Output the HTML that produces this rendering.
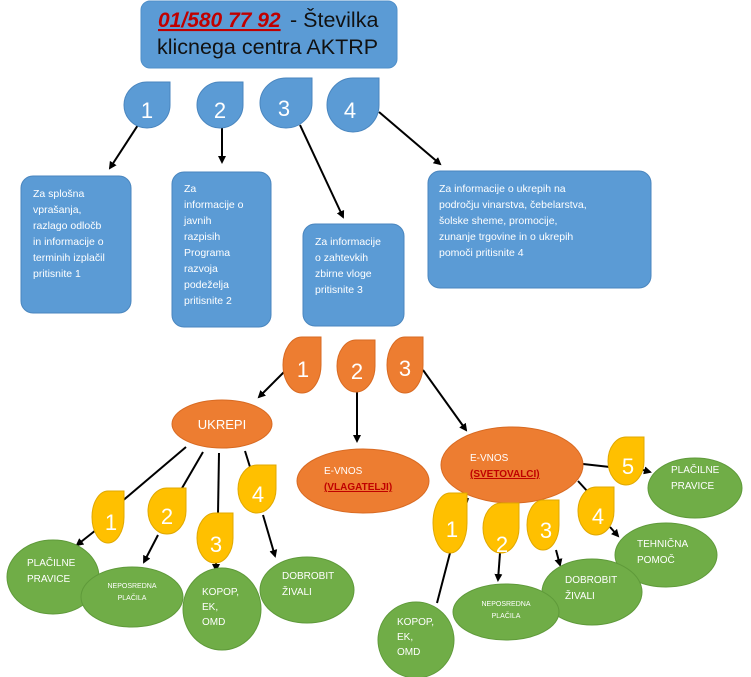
<!DOCTYPE html>
<html><head><meta charset="utf-8"><style>
html,body{margin:0;padding:0;background:#fff;}
svg{display:block;font-family:"Liberation Sans",sans-serif;}
.bt{fill:#fff;font-size:10.5px;}
.gt{fill:#fff;font-size:10px;}
.dn{fill:#fff;font-size:22px;text-anchor:middle;}
</style></head><body>
<svg width="751" height="677" viewBox="0 0 751 677" xmlns="http://www.w3.org/2000/svg">
<defs><marker id="a" markerWidth="8" markerHeight="8" refX="6" refY="4" orient="auto" markerUnits="userSpaceOnUse"><path d="M0,0 L8,4 L0,8 Z" fill="#000"/></marker></defs>
<g stroke="#000" stroke-width="2" fill="none">
<line x1="138" y1="125" x2="110" y2="168" marker-end="url(#a)"/>
<line x1="222" y1="128" x2="222" y2="162" marker-end="url(#a)"/>
<line x1="300" y1="125" x2="343" y2="217" marker-end="url(#a)"/>
<line x1="379" y1="112" x2="440" y2="164" marker-end="url(#a)"/>
<line x1="286" y1="370" x2="259" y2="397" marker-end="url(#a)"/>
<line x1="357" y1="392" x2="357" y2="441" marker-end="url(#a)"/>
<line x1="423" y1="370" x2="466" y2="430" marker-end="url(#a)"/>
<line x1="186" y1="447" x2="120" y2="503"/>
<line x1="96" y1="530" x2="77" y2="545" marker-end="url(#a)"/>
<line x1="203" y1="452" x2="178" y2="495"/>
<line x1="158" y1="535" x2="144" y2="562" marker-end="url(#a)"/>
<line x1="219" y1="453" x2="218" y2="514"/>
<line x1="216" y1="563" x2="216" y2="570" marker-end="url(#a)"/>
<line x1="245" y1="451" x2="250" y2="467"/>
<line x1="263" y1="515" x2="275" y2="556" marker-end="url(#a)"/>
<line x1="468" y1="498" x2="465" y2="508"/>
<line x1="450" y1="553" x2="437" y2="603"/>
<line x1="506" y1="503" x2="505" y2="516"/>
<line x1="500" y1="553" x2="498" y2="580" marker-end="url(#a)"/>
<line x1="540" y1="500" x2="542" y2="508"/>
<line x1="556" y1="550" x2="560" y2="565" marker-end="url(#a)"/>
<line x1="578" y1="481" x2="588" y2="492"/>
<line x1="610" y1="527" x2="618" y2="536" marker-end="url(#a)"/>
<line x1="583" y1="464" x2="610" y2="467"/>
<line x1="643" y1="470" x2="650" y2="472" marker-end="url(#a)"/>
</g>
<!-- title -->
<rect x="141" y="1" width="256" height="67" rx="9" fill="#5b9bd5" stroke="#4f8fc9"/>
<text x="158" y="27" font-size="21" fill="#c00000" font-style="italic" font-weight="bold" text-decoration="underline">01/580 77 92 </text>
<text x="290" y="27" font-size="21.5" fill="#111">- Številka</text>
<text x="157" y="54" font-size="21.5" fill="#111">klicnega centra AKTRP</text>
<!-- blue boxes -->
<g fill="#5b9bd5" stroke="#4a86bf">
<rect x="21" y="176" width="110" height="137" rx="12"/>
<rect x="172" y="172" width="99" height="155" rx="12"/>
<rect x="303" y="224" width="101" height="102" rx="12"/>
<rect x="428" y="171" width="223" height="117" rx="12"/>
</g>
<text class="bt"><tspan x="33" y="197">Za splošna</tspan><tspan x="33" y="213">vprašanja,</tspan><tspan x="33" y="229">razlago odločb</tspan><tspan x="33" y="245">in informacije o</tspan><tspan x="33" y="261">terminih izplačil</tspan><tspan x="33" y="277">pritisnite 1</tspan></text>
<text class="bt"><tspan x="184" y="192">Za</tspan><tspan x="184" y="208">informacije o</tspan><tspan x="184" y="224">javnih</tspan><tspan x="184" y="240">razpisih</tspan><tspan x="184" y="256">Programa</tspan><tspan x="184" y="272">razvoja</tspan><tspan x="184" y="288">podeželja</tspan><tspan x="184" y="304">pritisnite 2</tspan></text>
<text class="bt"><tspan x="315" y="245">Za informacije</tspan><tspan x="315" y="261">o zahtevkih</tspan><tspan x="315" y="277">zbirne vloge</tspan><tspan x="315" y="293">pritisnite 3</tspan></text>
<text class="bt"><tspan x="439" y="192">Za informacije o ukrepih na</tspan><tspan x="439" y="208">področju vinarstva, čebelarstva,</tspan><tspan x="439" y="224">šolske sheme, promocije,</tspan><tspan x="439" y="240">zunanje trgovine in o ukrepih</tspan><tspan x="439" y="256">pomoči pritisnite 4</tspan></text>
<!-- blue drops -->
<g fill="#5b9bd5" stroke="#4a86bf">
<path d="M147,82 L170,82 L170,105 A23,23 0 1 1 147,82 Z"/>
<path d="M220,82 L243,82 L243,105 A23,23 0 1 1 220,82 Z"/>
<path d="M286,78 L312,78 L312,103 A26,25 0 1 1 286,78 Z"/>
<path d="M353,78 L379,78 L379,105 A26,27 0 1 1 353,78 Z"/>
</g>
<text class="dn" x="147" y="118">1</text><text class="dn" x="220" y="118">2</text><text class="dn" x="284" y="116">3</text><text class="dn" x="350" y="118">4</text>
<!-- orange drops -->
<g fill="#ed7d31" stroke="#d86a22">
<path d="M302,337 L321,337 L321,365 A19,28 0 1 1 302,337 Z"/>
<path d="M356,340 L375,340 L375,366 A19,26 0 1 1 356,340 Z"/>
<path d="M405,337 L423,337 L423,365 A18,28 0 1 1 405,337 Z"/>
</g>
<text class="dn" x="303" y="377">1</text><text class="dn" x="357" y="379">2</text><text class="dn" x="405" y="376">3</text>
<!-- orange ellipses -->
<g fill="#ed7d31" stroke="#d86a22">
<ellipse cx="222" cy="424" rx="50" ry="24"/>
<ellipse cx="363" cy="481" rx="66" ry="32"/>
<ellipse cx="512" cy="465" rx="71" ry="38"/>
</g>
<text x="222" y="429" font-size="13" fill="#fff" text-anchor="middle">UKREPI</text>
<text x="324" y="474" font-size="10" fill="#fff">E-VNOS</text>
<text x="324" y="490" font-size="10" fill="#c00000" font-weight="bold" text-decoration="underline">(VLAGATELJI)</text>
<text x="470" y="461" font-size="10" fill="#fff">E-VNOS</text>
<text x="470" y="468" dy="9" font-size="10" fill="#c00000" font-weight="bold" text-decoration="underline">(SVETOVALCI)</text>
<!-- green -->
<g fill="#70ad47" stroke="#5f9a3a">
<ellipse cx="53" cy="577" rx="46" ry="37"/>
<ellipse cx="132" cy="597" rx="51" ry="30"/>
<ellipse cx="222" cy="609" rx="39" ry="41"/>
<ellipse cx="307" cy="590" rx="47" ry="33"/>
<ellipse cx="695" cy="488" rx="47" ry="30"/>
<ellipse cx="666" cy="555" rx="51" ry="32"/>
<ellipse cx="592" cy="592" rx="50" ry="33"/>
<ellipse cx="506" cy="612" rx="53" ry="28"/>
<ellipse cx="416" cy="640" rx="38" ry="38"/>
</g>
<text class="gt"><tspan x="27" y="566">PLAČILNE</tspan><tspan x="27" y="582">PRAVICE</tspan></text>
<text font-size="7" fill="#fff" text-anchor="middle"><tspan x="132" y="588">NEPOSREDNA</tspan><tspan x="132" y="600">PLAČILA</tspan></text>
<text class="gt"><tspan x="202" y="595">KOPOP,</tspan><tspan x="202" y="610">EK,</tspan><tspan x="202" y="625">OMD</tspan></text>
<text class="gt"><tspan x="282" y="579">DOBROBIT</tspan><tspan x="282" y="595">ŽIVALI</tspan></text>
<text class="gt"><tspan x="671" y="473">PLAČILNE</tspan><tspan x="671" y="489">PRAVICE</tspan></text>
<text class="gt"><tspan x="637" y="547">TEHNIČNA</tspan><tspan x="637" y="563">POMOČ</tspan></text>
<text class="gt"><tspan x="565" y="583">DOBROBIT</tspan><tspan x="565" y="599">ŽIVALI</tspan></text>
<text font-size="7" fill="#fff" text-anchor="middle"><tspan x="506" y="606">NEPOSREDNA</tspan><tspan x="506" y="618">PLAČILA</tspan></text>
<text class="gt"><tspan x="397" y="625">KOPOP,</tspan><tspan x="397" y="640">EK,</tspan><tspan x="397" y="655">OMD</tspan></text>
<!-- yellow drops -->
<g fill="#ffc000" stroke="#e0a800">
<path d="M108,491 L124,491 L124,517 A16,26 0 1 1 108,491 Z"/>
<path d="M167,488 L186,488 L186,511 A19,23 0 1 1 167,488 Z"/>
<path d="M215,513 L233,513 L233,538 A18,25 0 1 1 215,513 Z"/>
<path d="M257,465 L276,465 L276,489 A19,24 0 1 1 257,465 Z"/>
<path d="M450,493 L467,493 L467,523 A17,30 0 1 1 450,493 Z"/>
<path d="M501,503 L519,503 L519,528 A18,25 0 1 1 501,503 Z"/>
<path d="M543,500 L559,500 L559,525 A16,25 0 1 1 543,500 Z"/>
<path d="M596,487 L614,487 L614,511 A18,24 0 1 1 596,487 Z"/>
<path d="M626,437 L644,437 L644,461 A18,24 0 1 1 626,437 Z"/>
</g>
<text class="dn" x="111" y="530">1</text><text class="dn" x="167" y="524">2</text><text class="dn" x="216" y="552">3</text><text class="dn" x="258" y="502">4</text>
<text class="dn" x="452" y="537">1</text><text class="dn" x="502" y="552">2</text><text class="dn" x="546" y="538">3</text><text class="dn" x="598" y="524">4</text><text class="dn" x="628" y="474">5</text>
</svg>
</body></html>
